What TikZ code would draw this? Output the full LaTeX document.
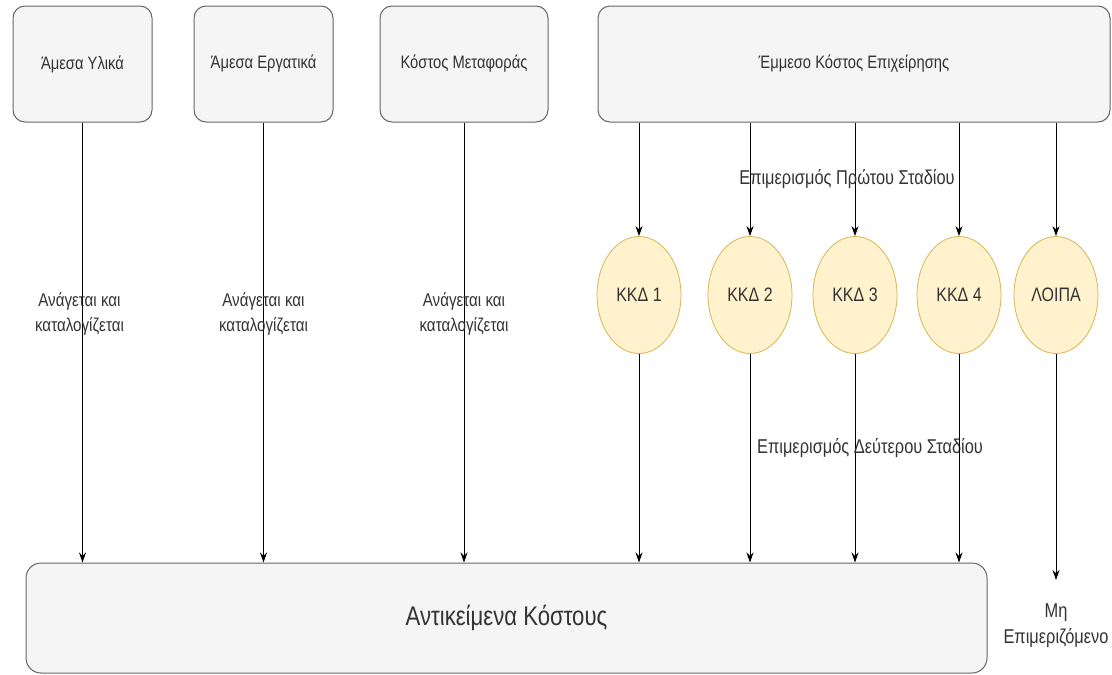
\documentclass[tikz,border=0pt]{standalone}
\usepackage{fontspec}
\setmainfont{Liberation Sans}[FakeStretch=0.82]
\usetikzlibrary{arrows.meta,shapes.geometric}
\definecolor{boxfill}{HTML}{F5F5F5}
\definecolor{boxline}{HTML}{666666}
\definecolor{ccfill}{HTML}{FFF2CC}
\definecolor{ccline}{HTML}{D6B656}
\definecolor{txt}{HTML}{333333}
\begin{document}
\begin{tikzpicture}[x=1pt,y=-1pt,
    src/.style={draw=boxline, fill=boxfill, rounded corners=12pt, line width=1pt, minimum height=116pt, inner sep=0pt, text=txt, font=\fontsize{18}{22}\selectfont},
    cc/.style={ellipse, draw=ccline, fill=ccfill, line width=0.8pt, minimum width=84pt, minimum height=117pt, inner sep=0pt, text=txt, font=\fontsize{19.5}{24}\selectfont},
    arr/.style={-{Stealth[length=10pt,width=7pt]}, line width=1pt},
    lbl/.style={align=center, text=txt, font=\fontsize{18.5}{25}\selectfont}]
    \useasboundingbox (0,0) rectangle (1112,675);
    \node[src,minimum width=139pt] (yl) at (82.5,64) {Άμεσα Υλικά};
    \node[src,minimum width=139pt] (erg) at (263.5,64) {Άμεσα Εργατικά};
    \node[src,minimum width=168pt] (met) at (464,64) {Κόστος Μεταφοράς};
    \node[src,minimum width=512pt] (emm) at (854,64) {Έμμεσο Κόστος Επιχείρησης};
    \node[cc] (kkd1) at (639,295) {ΚΚΔ 1};
    \node[cc] (kkd2) at (750,295) {ΚΚΔ 2};
    \node[cc] (kkd3) at (855,295) {ΚΚΔ 3};
    \node[cc] (kkd4) at (959,295) {ΚΚΔ 4};
    \node[cc] (loipa) at (1056,295) {ΛΟΙΠΑ};
    \node[src,rounded corners=15pt,minimum width=961pt,minimum height=110pt,font=\fontsize{27}{30}\selectfont] (obj) at (506.5,618) {Αντικείμενα Κόστους};
    \node[lbl,anchor=north,inner xsep=2pt,inner ysep=24pt,font=\fontsize{20}{26}\selectfont] (mh) at (1056,580) {Μη\\Επιμεριζόμενο};
    \draw[arr] (yl.south) -- node[lbl,pos=0.434,xshift=-3pt]{Ανάγεται και\\καταλογίζεται} (yl |- obj.north);
    \draw[arr] (erg.south) -- node[lbl,pos=0.434]{Ανάγεται και\\καταλογίζεται} (erg |- obj.north);
    \draw[arr] (met.south) -- node[lbl,pos=0.434]{Ανάγεται και\\καταλογίζεται} (met |- obj.north);
    \draw[arr] (kkd1 |- emm.south) -- (kkd1.north);
    \draw[arr] (kkd2 |- emm.south) -- (kkd2.north);
    \draw[arr] (kkd3 |- emm.south) -- node[lbl,xshift=-8pt,font=\fontsize{20}{24}\selectfont]{Επιμερισμός Πρώτου Σταδίου} (kkd3.north);
    \draw[arr] (kkd4 |- emm.south) -- (kkd4.north);
    \draw[arr] (loipa |- emm.south) -- (loipa.north);
    \draw[arr] (kkd1.south) -- (kkd1 |- obj.north);
    \draw[arr] (kkd2.south) -- (kkd2 |- obj.north);
    \draw[arr] (kkd3.south) -- node[lbl,pos=0.45,xshift=15pt,font=\fontsize{20}{24}\selectfont]{Επιμερισμός Δεύτερου Σταδίου} (kkd3 |- obj.north);
    \draw[arr] (kkd4.south) -- (kkd4 |- obj.north);
    \draw[arr] (loipa.south) -- (mh.north);
  \end{tikzpicture}
\end{document}
